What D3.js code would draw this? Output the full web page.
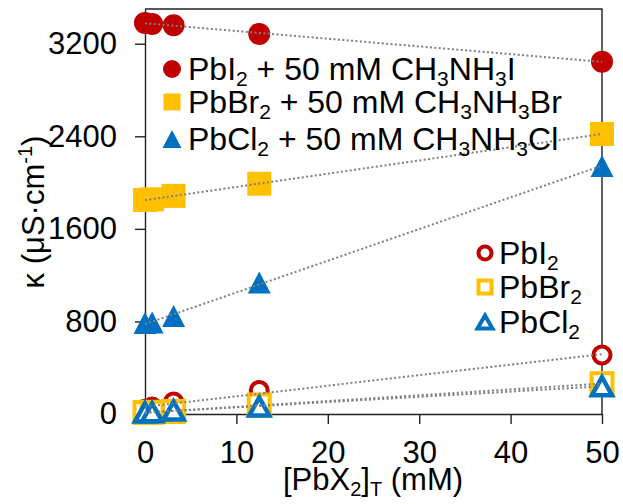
<!DOCTYPE html>
<html>
<head>
<meta charset="utf-8">
<script src="https://cdn.jsdelivr.net/npm/d3@7"></script>
<style>
  html, body { margin: 0; padding: 0; background: #fff; }
  svg { display: block; font-family: "Liberation Sans", Arial, sans-serif; }
</style>
</head>
<body>
<svg id="chart" width="623" height="504"></svg>
<script>
// ---- data ----
const concentrations = [0, 0.78, 3.13, 12.5, 50];           // [PbX2]T (mM)
const pbI2_MAI   = [3380, 3370, 3360, 3285, 3045];
const pbBr2_MABr = [1850, 1855, 1885, 1990, 2420];
const pbCl2_MACl = [786, 790, 847, 1136, 2143];
const pbI2_only  = [40, 60, 104, 203, 510];
const pbBr2_only = [13, 15, 22, 78, 262];
const pbCl2_only = [13, 15, 30, 65, 240];
const xTicks = [0, 10, 20, 30, 40, 50];
const yTicks = [0, 800, 1600, 2400, 3200];

const RED = "#C00000", GOLD = "#FFC000", BLUE = "#0070C0";

const svg = d3.select("#chart");
const m = { left: 145, right: 602, top: 9, bottom: 414 };
const x = d3.scaleLinear().domain([0, 50]).range([m.left, m.right]);
const y = d3.scaleLinear().domain([0, 3500]).range([m.bottom, m.top]);

const FS = 31;      // axis text
const LFS = 32;     // legend text

// frame (top and right)
svg.append("path")
  .attr("d", `M${m.left},${m.top}H${m.right}V${m.bottom}`)
  .attr("fill", "none").attr("stroke", "#222").attr("stroke-width", 1.4);

// axes
const gy = svg.append("g").attr("transform", `translate(${m.left},0)`)
  .call(d3.axisLeft(y).tickValues(yTicks).tickSize(10).tickSizeOuter(0).tickPadding(18).tickFormat(d3.format("d")));
const gx = svg.append("g").attr("transform", `translate(0,${m.bottom})`)
  .call(d3.axisBottom(x).tickValues(xTicks).tickSize(10).tickSizeOuter(0).tickPadding(17).tickFormat(d3.format("d")));
[gx, gy].forEach(g => {
  g.selectAll("path.domain").attr("stroke", "#222").attr("stroke-width", 1.4);
  g.selectAll(".tick line").attr("stroke", "#222").attr("stroke-width", 1.4);
  g.selectAll("text").attr("font-size", FS).attr("fill", "#000")
    .attr("font-family", '"Liberation Sans", Arial, sans-serif');
});

// marker helpers
function tri(w, h) { // bbox-centred triangle
  return `M0,${-h/2}L${w/2},${h/2}L${-w/2},${h/2}Z`;
}
function drawMarker(g, type, cx, cy, opt) {
  const s = opt.size;
  let el;
  if (type === "circle") {
    el = g.append("circle").attr("cx", cx).attr("cy", cy).attr("r", s / 2);
  } else if (type === "square") {
    el = g.append("rect").attr("x", cx - s / 2).attr("y", cy - s / 2).attr("width", s).attr("height", s);
  } else {
    el = g.append("path").attr("d", tri(opt.w || s, s)).attr("transform", `translate(${cx},${cy})`)
      .attr("stroke-linejoin", "miter");
  }
  if (opt.open) {
    el.attr("fill", "#fff").attr("stroke", opt.color).attr("stroke-width", opt.sw);
  } else {
    el.attr("fill", opt.color).attr("stroke", "none");
  }
  return el;
}

const series = [
  { vals: pbI2_only,  type: "circle", color: RED,  open: true, size: 17, sw: 4 },
  { vals: pbBr2_only, type: "square", color: GOLD, open: true, size: 21, sw: 4 },
  { vals: pbCl2_only, type: "triangle", color: BLUE, open: true, size: 18, w: 20, sw: 4.5 },
  { vals: pbI2_MAI,   type: "circle", color: RED,  open: false, size: 22 },
  { vals: pbBr2_MABr, type: "square", color: GOLD, open: false, size: 24 },
  { vals: pbCl2_MACl, type: "triangle", color: BLUE, open: false, size: 22, w: 23 },
];

const gm = svg.append("g");
series.forEach(s => {
  const g = gm.append("g");
  s.vals.forEach((v, i) => drawMarker(g, s.type, x(concentrations[i]), y(v), s));
});

// linear trendlines (least squares fit of each series)
function fit(xs, ys) {
  const n = xs.length, mx = d3.mean(xs), my = d3.mean(ys);
  let sxy = 0, sxx = 0;
  for (let i = 0; i < n; i++) { sxy += (xs[i] - mx) * (ys[i] - my); sxx += (xs[i] - mx) ** 2; }
  const b = sxy / sxx; return { a: my - b * mx, b };
}
const line = d3.line().x(d => x(d[0])).y(d => y(d[1]));
series.forEach(s => {
  const f = fit(concentrations, s.vals);
  const x0 = d3.min(concentrations), x1 = d3.max(concentrations);
  svg.append("path").attr("d", line([[x0, f.a + f.b * x0], [x1, f.a + f.b * x1]]))
    .attr("fill", "none").attr("stroke", "#7f7f7f").attr("stroke-width", 2)
    .attr("stroke-dasharray", "2,2.4");
});

// text helper with subscripts: parts = [[text, "n"|"sub"|"sup"], ...]
function richText(g, xPos, yPos, parts, opt = {}) {
  const fs = opt.fs || FS;
  const small = Math.round(fs * 0.66);
  const t = g.append("text").attr("x", xPos).attr("y", yPos).attr("font-size", fs).attr("fill", "#000");
  if (opt.anchor) t.attr("text-anchor", opt.anchor);
  if (opt.transform) t.attr("transform", opt.transform);
  let shift = 0;
  parts.forEach(([str, kind]) => {
    const ts = t.append("tspan").text(str);
    let target = 0;
    if (kind === "sub") { ts.attr("font-size", small); target = Math.round(fs * 0.2); }
    if (kind === "sup") { ts.attr("font-size", small); target = -Math.round(fs * 0.4); }
    ts.attr("dy", target - shift);
    shift = target;
  });
  return t;
}

// legend 1 (filled)
const leg1 = [
  { type: "circle", color: RED, size: 18, y: 69,
    parts: [["PbI", "n"], ["2", "sub"], [" + 50 mM CH", "n"], ["3", "sub"], ["NH", "n"], ["3", "sub"], ["I", "n"]] },
  { type: "square", color: GOLD, size: 17, y: 102,
    parts: [["PbBr", "n"], ["2", "sub"], [" + 50 mM CH", "n"], ["3", "sub"], ["NH", "n"], ["3", "sub"], ["Br", "n"]] },
  { type: "triangle", color: BLUE, size: 18, w: 19, y: 139,
    parts: [["PbCl", "n"], ["2", "sub"], [" + 50 mM CH", "n"], ["3", "sub"], ["NH", "n"], ["3", "sub"], ["Cl", "n"]] },
];
const gl1 = svg.append("g");
leg1.forEach(r => {
  drawMarker(gl1, r.type, 172, r.y, { color: r.color, size: r.size, w: r.w, open: false });
  richText(gl1, 188, r.y + 11, r.parts, { fs: LFS });
});

// legend 2 (open)
const leg2 = [
  { type: "circle", color: RED, size: 13, sw: 4, y: 253, parts: [["PbI", "n"], ["2", "sub"]] },
  { type: "square", color: GOLD, size: 13, sw: 4, y: 287, parts: [["PbBr", "n"], ["2", "sub"]] },
  { type: "triangle", color: BLUE, size: 13, w: 15, sw: 4, y: 322, parts: [["PbCl", "n"], ["2", "sub"]] },
];
const gl2 = svg.append("g");
leg2.forEach(r => {
  drawMarker(gl2, r.type, 485, r.y, { color: r.color, size: r.size, w: r.w, open: true, sw: r.sw });
  richText(gl2, 499, r.y + 11, r.parts, { fs: LFS });
});

// axis titles
richText(svg, 373, 490, [["[PbX", "n"], ["2", "sub"], ["]", "n"], ["T", "sub"], [" (mM)", "n"]], { anchor: "middle" });
richText(svg, 0, 0, [["κ (μS·cm", "n"], ["-1", "sup"], [")", "n"]],
  { anchor: "middle", transform: "translate(44,212) rotate(-90)" });
</script>
</body>
</html>
